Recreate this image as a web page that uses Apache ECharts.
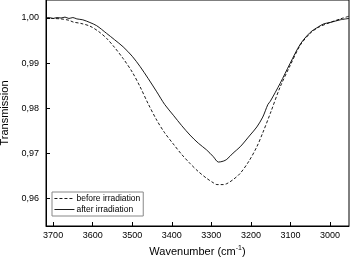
<!DOCTYPE html>
<html><head><meta charset="utf-8">
<script src="https://cdn.jsdelivr.net/npm/echarts@6/dist/echarts.min.js"></script>
<style>html,body{margin:0;padding:0;background:#fff}#c{width:350px;height:261px}</style>
</head><body><div id="c"></div>
<script>
var afterWn = [3718,3710,3700,3690,3680,3670,3660,3650,3640,3625,3607,3590,3565,3545,3523,3500,3480,3460,3438,3418,3396,3375,3354,3333,3312,3295,3282,3270,3261,3245,3227,3202,3185,3170,3157,3151,3126,3101,3075,3050,3030,3016,3000,2974,2952];
var afterT  = [1.0000,1.0001,0.9999,1.0001,1.0000,1.0002,0.9999,1.0001,0.9998,0.9996,0.9990,0.9983,0.9966,0.9952,0.9936,0.9915,0.9892,0.9866,0.9836,0.9808,0.9784,0.9761,0.9740,0.9722,0.9707,0.9692,0.9680,0.9682,0.9686,0.9700,0.9714,0.9740,0.9758,0.9780,0.9808,0.9815,0.9855,0.9899,0.9942,0.9968,0.9980,0.9987,0.9990,0.9996,0.9999];
var beforeWn = [3718,3700,3680,3660,3649,3630,3607,3585,3565,3545,3523,3500,3480,3460,3438,3418,3396,3375,3354,3333,3312,3295,3286,3270,3261,3245,3227,3205,3185,3170,3151,3126,3101,3075,3050,3030,3000,2974,2952];
var beforeT  = [1.0000,0.9999,0.9998,0.9995,0.9991,0.9988,0.9982,0.9970,0.9955,0.9935,0.9910,0.9880,0.9847,0.9810,0.9773,0.9745,0.9720,0.9697,0.9677,0.9659,0.9644,0.9634,0.9630,0.9630,0.9632,0.9641,0.9655,0.9682,0.9714,0.9745,0.9788,0.9847,0.9894,0.9940,0.9966,0.9979,0.9990,0.9998,1.0004];
var xTicks = [3700,3600,3500,3400,3300,3200,3100,3000];
var yTicks = [0.96,0.97,0.98,0.99,1.00];
var seriesNames = ['before irradiation','after irradiation'];

function pairs(a,b){return a.map(function(v,i){return [v,b[i]];});}
var font = '"Liberation Sans", Arial, sans-serif';
var chart = echarts.init(document.getElementById('c'), null, {renderer:'canvas'});
chart.setOption({
  animation:false,
  grid:{left:46,right:1,top:0,bottom:35,show:true,borderColor:'#000',borderWidth:1,outerBoundsMode:'none',containLabel:false},
  legend:{
    left:52, top:192, orient:'vertical', itemWidth:20, itemHeight:8, itemGap:2,
    padding:[2,3,2,2], borderColor:'#888', borderWidth:1,
    itemStyle:{opacity:0},
    lineStyle:{width:0.9},
    textStyle:{fontFamily:font,fontSize:8.5,color:'#000',padding:[0,0,0,-3]},
    data:seriesNames
  },
  xAxis:{
    type:'value', inverse:true, min:2952, max:3718,
    axisLine:{show:true,lineStyle:{color:'#000',width:1}},
    axisTick:{show:true,inside:true,length:4,customValues:xTicks,lineStyle:{color:'#000'}},
    axisLabel:{customValues:xTicks,fontFamily:font,fontSize:9,color:'#000',margin:5,
      formatter:function(v){return String(Math.round(v));}},
    splitLine:{show:false},
    name:'Wavenumber (cm{sup|-1})', nameLocation:'middle', nameGap:19,
    nameTextStyle:{fontFamily:font,fontSize:11,color:'#000',
      rich:{sup:{fontFamily:font,fontSize:7,color:'#000',padding:[0,0,6,0]}}}
  },
  yAxis:{
    type:'value', min:0.9538, max:1.004,
    axisLine:{show:true,lineStyle:{color:'#000',width:1}},
    axisTick:{show:true,inside:true,length:4,customValues:yTicks,lineStyle:{color:'#000'}},
    axisLabel:{customValues:yTicks,fontFamily:font,fontSize:9,color:'#000',margin:7,
      formatter:function(v){return v.toFixed(2).replace('.',',');}},
    splitLine:{show:false},
    name:'Transmission', nameLocation:'middle', nameGap:32,
    nameTextStyle:{fontFamily:font,fontSize:11,color:'#000'}
  },
  series:[
    {name:seriesNames[0],type:'line',data:pairs(beforeWn,beforeT),symbol:'none',smooth:0.3,
     lineStyle:{color:'#000',width:0.9,type:[3,2]},itemStyle:{color:'#000'}},
    {name:seriesNames[1],type:'line',data:pairs(afterWn,afterT),symbol:'none',smooth:0.3,
     lineStyle:{color:'#000',width:0.9},itemStyle:{color:'#000'}}
  ]
});
</script></body></html>
